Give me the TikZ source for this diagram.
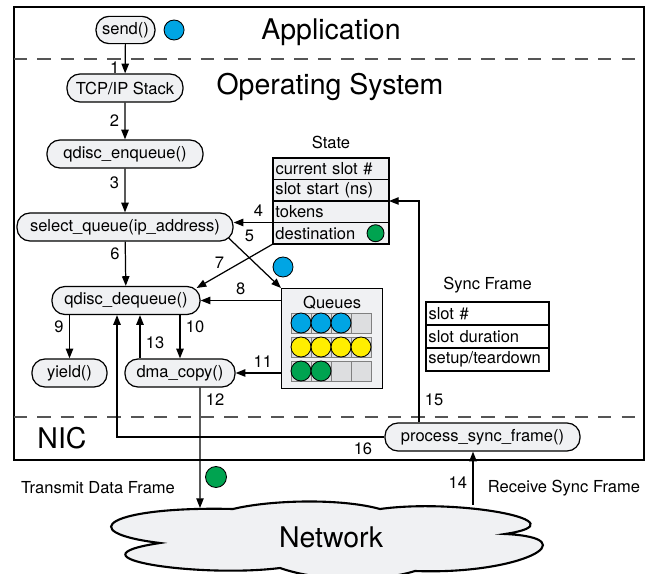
\documentclass[tikz,border=0pt]{standalone}
\usepackage{fontspec}
\setmainfont{TeX Gyre Heros}
\usetikzlibrary{positioning,arrows.meta}
\definecolor{boxgray}{RGB}{240,241,243}
\definecolor{cellgray}{RGB}{221,222,224}
\definecolor{pktblue}{RGB}{0,165,228}
\definecolor{pktyellow}{RGB}{255,238,0}
\definecolor{pktgreen}{RGB}{0,163,80}
\definecolor{divgray}{RGB}{85,85,85}

\begin{document}
\begin{tikzpicture}[scale=0.2]
\tikzstyle{every node}+=[font=\fontsize{9.4}{11.3}\selectfont]
\tikzstyle{fn}=[draw, fill=boxgray, rounded corners=0.26cm, minimum height=0.56cm, line width=0.7pt, inner xsep=2pt]
\tikzstyle{arr}=[-{Triangle[length=5.5pt,width=4.2pt]}, line width=0.7pt]
\tikzstyle{num}=[inner sep=3pt]
\tikzstyle{big}=[font=\fontsize{16.2}{19}\selectfont]
\tikzstyle{strow}=[draw, fill=boxgray, line width=0.7pt, outer sep=0pt, text width=2.22cm, minimum height=0.43cm, inner xsep=0.05cm, inner ysep=0pt, align=left]
\tikzstyle{sfrow}=[draw, fill=white, line width=0.7pt, outer sep=0pt, text width=2.36cm, minimum height=0.46cm, inner xsep=0.05cm, inner ysep=0pt, align=left]
\tikzstyle{ball}=[circle, draw, line width=0.5pt, inner sep=0pt, minimum size=0.4cm]
\tikzstyle{divider}=[draw=divgray, line width=0.9pt, dash pattern=on 7.5pt off 5.8pt]
\useasboundingbox (0,0) rectangle (65.6,-57.4);

\draw [line width=1.4pt] (1.4,-0.7) rectangle (64.4,-46.0);
\draw [divider] (1.4,-5.9) -- (64.4,-5.9);
\draw [divider] (1.4,-41.7) -- (64.4,-41.7);
\node [big] (app) at (33.1,-3.2) {Application};
\node [big] (os) at (33.0,-8.7) {Operating System};
\node [big] (nic) at (6.2,-43.8) {NIC};

\node [fn, minimum height=0.54cm, minimum width=1.18cm] (send) at (12.55,-3.0) {send()};
\node [ball, fill=pktblue, right=0.16cm of send] (sdot) {};
\node [fn, minimum width=2.32cm] (tcp) at (12.5,-8.8) {TCP/IP Stack};
\node [fn, minimum width=3.12cm] (enq) at (12.5,-15.4) {qdisc\_enqueue()};
\node [fn, minimum width=4.32cm] (selq) at (12.5,-22.7) {select\_queue(ip\_address)};
\node [fn, minimum width=2.96cm] (deq) at (12.6,-30.05) {qdisc\_dequeue()};
\node [fn, minimum width=1.5cm] (yield) at (6.95,-37.3) {yield()};
\node [fn, minimum width=2.2cm] (dma) at (18.0,-37.3) {dma\_copy()};
\node [fn, minimum width=3.9cm] (psf) at (48.25,-43.7) {process\_sync\_frame()};

\node [strow, anchor=north west] (st1) at (27.3,-15.8) {current slot \#};
\node [strow, below=0pt of st1] (st2) {slot start (ns)};
\node [strow, below=0pt of st2] (st3) {tokens};
\node [strow, below=0pt of st3] (st4) {destination};
\node [above=0.06cm of st1] (stlbl) {State};
\node [ball, fill=pktgreen, minimum size=0.34cm, left=0.09cm of st4.east] (stdot) {};

\node [sfrow, anchor=north west] (sf1) at (42.6,-30.2) {slot \#};
\node [sfrow, below=0pt of sf1] (sf2) {slot duration};
\node [sfrow, below=0pt of sf2] (sf3) {setup/teardown};
\node [above=0.06cm of sf1] (sflbl) {Sync Frame};

\node [draw, fill=boxgray, line width=0.7pt, minimum width=2.02cm, minimum height=2.0cm, anchor=north west] (qbox) at (28.1,-28.8) {};
\node [below=0.03cm of qbox.north] (qlbl) {Queues};
\foreach \r/\n/\c in {0/3/pktblue, 1/4/pktyellow, 2/2/pktgreen} {
  \foreach \k in {0,...,3}
    \draw [fill=cellgray, draw=gray, line width=0.5pt] (29.1+2*\k,-31.3-2.4*\r) rectangle +(2,-2);
  \foreach \k in {1,...,\n}
    \draw [fill=\c, line width=0.5pt] (28.1+2*\k,-32.3-2.4*\r) circle (1);
}
\node [ball, fill=pktblue] (qdot) at (28.3,-26.7) {};

\draw [fill=boxgray, line width=1.2pt] (23.3,-50.9)
  .. controls (27,-50.0) and (34,-49.8) .. (38,-50.9)
  .. controls (46,-49.8) and (58.5,-52.2) .. (50.5,-53.4)
  .. controls (59,-53.8) and (52,-57.5) .. (41.5,-57.1)
  .. controls (38,-58.2) and (32,-58.2) .. (28,-56.8)
  .. controls (20,-57.8) and (6,-55.8) .. (16,-54.3)
  .. controls (7,-53.2) and (11,-50.6) .. (23.3,-50.9) -- cycle;
\node [big] (net) at (33.1,-53.7) {Network};
\node (txlbl) at (9.8,-48.8) {Transmit Data Frame};
\node (rxlbl) at (56.4,-48.8) {Receive Sync Frame};
\node [ball, fill=pktgreen, minimum size=0.42cm] (ndot) at (21.6,-47.7) {};
\coordinate (tx) at (20.0,-50.8);
\coordinate (rx) at (47.3,-50.5);
\coordinate (up15) at (41.9,-20.1);

\draw [arr] (send) -- node [num, left, pos=0.8] {1} (tcp);
\draw [arr] (tcp) -- node [num, left] {2} (enq);
\draw [arr] (enq) -- node [num, left, pos=0.33] {3} (selq);
\draw [arr] (st4.north west) -- node [num, above, pos=0.37] {4} (st4.north west -| selq.east);
\draw [arr] ([shift={(-0.5,-1.1)}]selq.east) -- node [num, above right, pos=0.2] {5} (qbox.north west);
\draw [arr] (selq) -- node [num, left, pos=0.28] {6} (deq);
\draw [arr] (st4.south west) -- node [num, above, pos=0.7] {7} ([shift={(-0.4,1.25)}]deq.east);
\draw [arr] (qbox.west |- deq.east) -- node [num, above] {8} (deq.east);
\draw [arr] (yield.north |- deq.south) -- node [num, left, pos=0.28] {9} (yield.north);
\draw [arr] (dma.north |- deq.south) -- node [num, right, pos=0.28] {10} (dma.north);
\draw [arr] (qbox.west |- dma.east) -- node [num, above, pos=0.4] {11} (dma.east);
\draw [arr] ([shift={(2,0)}]dma.south) -- node [num, right, pos=0.1] {12} (tx);
\draw [arr] ([shift={(-4,0)}]dma.north) -- node [num, right, pos=0.37] {13} ([shift={(-4,0)}]dma.north |- deq.south);
\draw [arr] (rx) -- node [num, left, pos=0.42] {14} (rx |- psf.south);
\draw [arr] (up15 |- psf.north) -- node [num, right, pos=0.1] {15} (up15 |- st2.south east) -- (st2.south east);
\draw [arr] (psf.west) -| node [num, below, pos=0.04] {16} ([shift={(-0.9,0)}]deq.south);
\end{tikzpicture}
\end{document}
